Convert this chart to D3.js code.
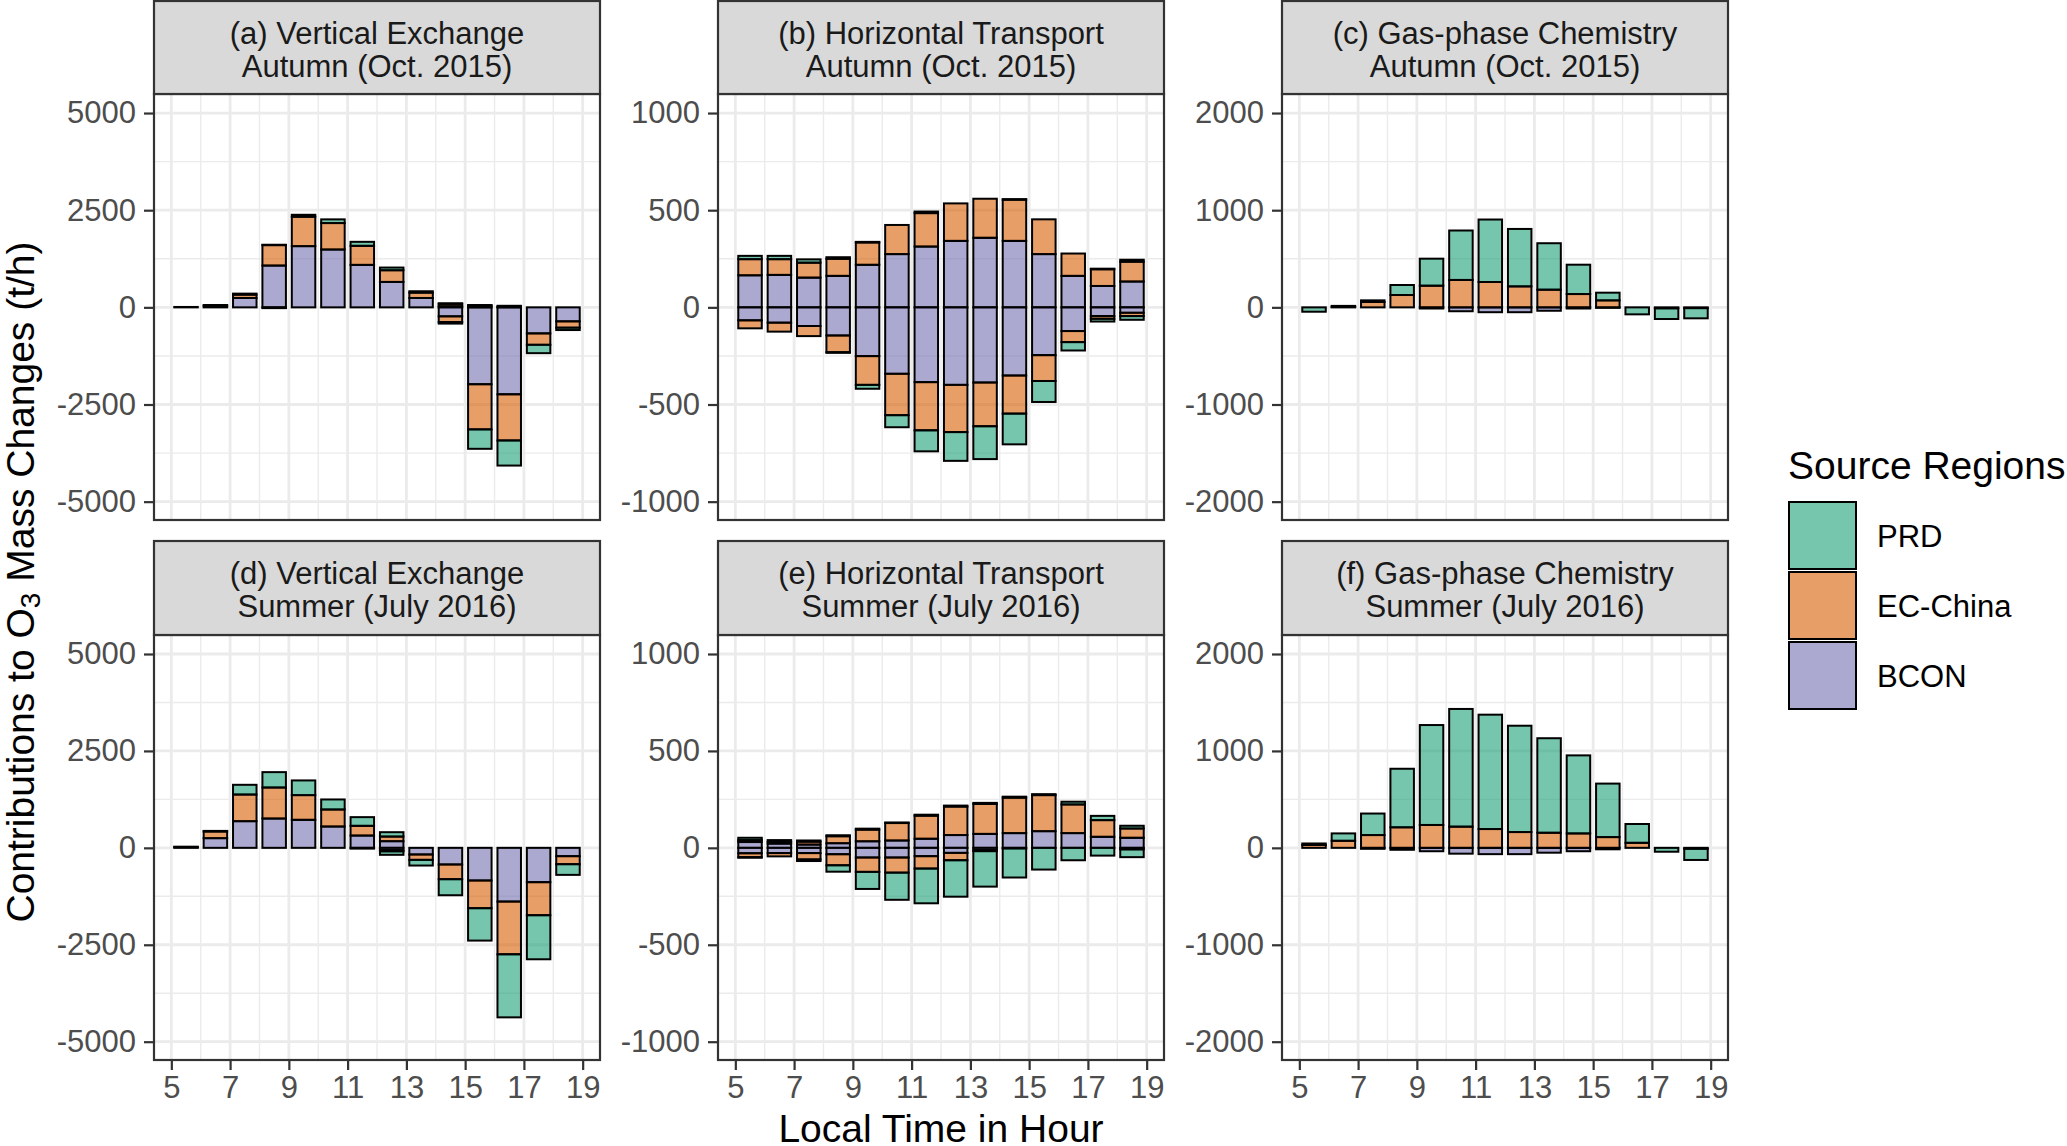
<!DOCTYPE html>
<html><head><meta charset="utf-8">
<script src="https://cdn.jsdelivr.net/npm/d3@7"></script>
<style>body{margin:0;background:#fff;}svg{display:block;font-family:"Liberation Sans",Arial,sans-serif;}</style>
</head><body>
<svg id="chart" width="2067" height="1146"></svg>
<script>
// ---- data ----
const hours = [5.5,6.5,7.5,8.5,9.5,10.5,11.5,12.5,13.5,14.5,15.5,16.5,17.5,18.5];
const regions = ["PRD","EC-China","BCON"];
const xTicks = [5,7,9,11,13,15,17,19];

// (a) Vertical Exchange, Autumn
const a_BCON_pos = [10,40,241,1076,1575,1489,1093,654,241,30,0,0,0,0];
const a_EC_pos   = [0,20,86,525,757,680,490,301,138,60,40,10,0,0];
const a_PRD_pos  = [0,0,26,10,50,95,103,69,35,15,20,30,0,0];
const a_BCON_neg = [0,0,0,0,0,0,0,0,0,-232,-1979,-2238,-671,-361];
const a_EC_neg   = [0,0,0,0,0,0,0,0,0,-146,-1162,-1188,-293,-163];
const a_PRD_neg  = [0,0,0,-20,0,0,0,0,0,-40,-499,-645,-215,-60];
// (b) Horizontal Transport, Autumn
const b_BCON_pos = [165,167,153,162,219,274,313,342,358,342,274,162,110,133];
const b_EC_pos   = [83,81,77,88,115,150,172,193,201,212,179,115,86,102];
const b_PRD_pos  = [17,17,17,8,3,0,8,0,0,3,0,0,3,10];
const b_BCON_neg = [-67,-79,-96,-145,-251,-342,-385,-399,-387,-351,-246,-122,-45,-28];
const b_EC_neg   = [-41,-46,-52,-86,-148,-213,-248,-243,-225,-196,-133,-57,-14,-17];
const b_PRD_neg  = [0,0,0,-3,-20,-62,-108,-148,-169,-158,-108,-43,-14,-19];
// (c) Gas-phase Chemistry, Autumn
const c_BCON_pos = [0,0,0,0,0,0,0,0,0,0,0,0,0,0];
const c_EC_pos   = [0,5,55,127,223,282,261,216,182,137,72,0,0,0];
const c_PRD_pos  = [0,10,17,103,278,509,643,591,478,302,79,0,0,0];
const c_BCON_neg = [0,0,0,0,-12,-40,-50,-50,-35,-12,-5,0,-10,-8];
const c_EC_neg   = [0,0,0,0,0,0,0,0,0,0,0,0,0,0];
const c_PRD_neg  = [-45,0,0,0,0,0,0,0,0,0,0,-72,-110,-105];
// (d) Vertical Exchange, Summer
const d_BCON_pos = [20,250,688,757,723,551,318,172,0,0,0,0,0,0];
const d_EC_pos   = [10,172,688,800,637,439,250,120,0,0,0,0,0,0];
const d_PRD_pos  = [0,15,250,396,379,258,224,112,0,0,0,0,0,0];
const d_BCON_neg = [0,0,0,0,0,0,-20,-60,-172,-430,-843,-1386,-886,-215];
const d_EC_neg   = [0,0,0,0,0,0,0,-30,-138,-379,-714,-1360,-852,-207];
const d_PRD_neg  = [0,0,0,0,0,0,0,-90,-146,-413,-835,-1626,-1136,-275];
// (e) Horizontal Transport, Summer
const e_BCON_pos = [30,22,17,24,34,38,47,66,72,76,86,76,57,52];
const e_EC_pos   = [10,10,15,36,60,90,119,147,155,183,186,148,86,48];
const e_PRD_pos  = [12,8,6,5,5,3,5,5,5,5,5,14,22,14];
const e_BCON_neg = [-28,-27,-27,-33,-50,-50,-43,-26,-12,-3,0,0,0,-8];
const e_EC_neg   = [-20,-17,-33,-57,-74,-78,-64,-38,-5,0,0,0,0,0];
const e_PRD_neg  = [-3,0,-8,-33,-88,-140,-179,-188,-183,-150,-112,-64,-40,-40];
// (f) Gas-phase Chemistry, Summer
const f_BCON_pos = [0,0,0,0,0,0,0,0,0,0,0,0,0,0];
const f_EC_pos   = [30,73,132,212,236,219,194,163,156,149,111,52,0,0];
const f_PRD_pos  = [15,76,222,604,1031,1214,1180,1097,975,805,552,194,0,0];
const f_BCON_neg = [0,0,-10,-20,-35,-60,-65,-65,-50,-35,-15,0,0,-10];
const f_EC_neg   = [0,0,0,0,0,0,0,0,0,0,0,0,0,0];
const f_PRD_neg  = [0,0,0,0,0,0,0,0,0,0,0,0,-40,-115];

const panelTitles = [
  ["(a) Vertical Exchange","Autumn (Oct. 2015)"],
  ["(b) Horizontal Transport","Autumn (Oct. 2015)"],
  ["(c) Gas-phase Chemistry","Autumn (Oct. 2015)"],
  ["(d) Vertical Exchange","Summer (July 2016)"],
  ["(e) Horizontal Transport","Summer (July 2016)"],
  ["(f) Gas-phase Chemistry","Summer (July 2016)"]
];
const yTicksA = [-5000,-2500,0,2500,5000];
const yTicksB = [-1000,-500,0,500,1000];
const yTicksC = [-2000,-1000,0,1000,2000];

const panelData = [
  {BCON:[a_BCON_pos,a_BCON_neg],EC:[a_EC_pos,a_EC_neg],PRD:[a_PRD_pos,a_PRD_neg]},
  {BCON:[b_BCON_pos,b_BCON_neg],EC:[b_EC_pos,b_EC_neg],PRD:[b_PRD_pos,b_PRD_neg]},
  {BCON:[c_BCON_pos,c_BCON_neg],EC:[c_EC_pos,c_EC_neg],PRD:[c_PRD_pos,c_PRD_neg]},
  {BCON:[d_BCON_pos,d_BCON_neg],EC:[d_EC_pos,d_EC_neg],PRD:[d_PRD_pos,d_PRD_neg]},
  {BCON:[e_BCON_pos,e_BCON_neg],EC:[e_EC_pos,e_EC_neg],PRD:[e_PRD_pos,e_PRD_neg]},
  {BCON:[f_BCON_pos,f_BCON_neg],EC:[f_EC_pos,f_EC_neg],PRD:[f_PRD_pos,f_PRD_neg]}
];

// ---- layout ----
const svg = d3.select("#chart");
const colors = {"PRD":"#1B9E77","EC-China":"#D95F02","BCON":"#7570B3"};
const keyOf = {"PRD":"PRD","EC-China":"EC","BCON":"BCON"};
const colX = [154,718,1282], pw = 446;
const rowStrip = [1,541], rowPTop = [94,635], rowPBot = [520,1060];
const yTickSets = [yTicksA,yTicksB,yTicksC];
const yMax = [5000,1000,2000];
const barW = 0.8;

panelData.forEach((pd,i)=>{
  const col = i%3, row = Math.floor(i/3);
  const x0 = colX[col], sTop = rowStrip[row], pTop = rowPTop[row], pBot = rowPBot[row];
  const ph = pBot-pTop, stripH = pTop-sTop;
  const m = yMax[col];
  const x = d3.scaleLinear().domain([4.41,19.59]).range([x0,x0+pw]);
  const y = d3.scaleLinear().domain([-m*1.0944, m*1.098]).range([pBot,pTop]);
  const g = svg.append("g");
  g.append("rect").attr("x",x0).attr("y",pTop).attr("width",pw).attr("height",ph).attr("fill","#fff");
  // minor grid
  const ticks = yTickSets[col];
  const yMinor = d3.range(ticks.length-1).map(k=>(ticks[k]+ticks[k+1])/2);
  g.selectAll(".ymn").data(yMinor).join("line").attr("x1",x0).attr("x2",x0+pw)
    .attr("y1",d=>y(d)).attr("y2",d=>y(d)).attr("stroke","#EBEBEB").attr("stroke-width",1.4);
  g.selectAll(".xmn").data(d3.range(6,19,2)).join("line").attr("y1",pTop).attr("y2",pBot)
    .attr("x1",d=>x(d)).attr("x2",d=>x(d)).attr("stroke","#EBEBEB").attr("stroke-width",1.4);
  // major grid
  g.selectAll(".ymj").data(ticks).join("line").attr("x1",x0).attr("x2",x0+pw)
    .attr("y1",d=>y(d)).attr("y2",d=>y(d)).attr("stroke","#EBEBEB").attr("stroke-width",2.8);
  g.selectAll(".xmj").data(xTicks).join("line").attr("y1",pTop).attr("y2",pBot)
    .attr("x1",d=>x(d)).attr("x2",d=>x(d)).attr("stroke","#EBEBEB").attr("stroke-width",2.8);
  // bars (stacked separately for positive and negative parts)
  const rects = [];
  hours.forEach((h,j)=>{
    let cp = 0, cn = 0;
    ["BCON","EC-China","PRD"].forEach(r=>{
      const arr = pd[keyOf[r]];
      const vp = arr[0][j], vn = arr[1][j];
      if (vp>0){ rects.push({h, r, y0:cp, y1:cp+vp}); cp+=vp; }
      if (vn<0){ rects.push({h, r, y0:cn+vn, y1:cn}); cn+=vn; }
    });
  });
  g.selectAll(".bar").data(rects).join("rect")
    .attr("x",d=>x(d.h-barW/2)).attr("width",d=>x(d.h+barW/2)-x(d.h-barW/2))
    .attr("y",d=>y(d.y1)).attr("height",d=>Math.max(0,y(d.y0)-y(d.y1)))
    .attr("fill",d=>colors[d.r]).attr("fill-opacity",0.6)
    .attr("stroke","#000").attr("stroke-width",2);
  // panel border
  g.append("rect").attr("x",x0).attr("y",pTop).attr("width",pw).attr("height",ph)
    .attr("fill","none").attr("stroke","#333333").attr("stroke-width",2.2);
  // strip
  g.append("rect").attr("x",x0).attr("y",sTop).attr("width",pw).attr("height",stripH)
    .attr("fill","#D9D9D9").attr("stroke","#333333").attr("stroke-width",2.2);
  panelTitles[i].forEach((t,k)=>{
    g.append("text").attr("x",x0+pw/2).attr("y",sTop+32+k*33).attr("text-anchor","middle")
      .attr("dominant-baseline","central").attr("font-size",31).attr("fill","#1A1A1A").text(t);
  });
  // y axis
  const ya = d3.axisLeft(y).tickValues(ticks).tickSize(10).tickPadding(8).tickFormat(d=>String(d));
  const yg = g.append("g").attr("transform",`translate(${x0},0)`).call(ya);
  yg.select(".domain").remove();
  yg.selectAll(".tick line").attr("stroke","#333333").attr("stroke-width",2.2);
  yg.selectAll(".tick text").attr("font-size",31).attr("fill","#4D4D4D")
    .attr("font-family","'Liberation Sans',Arial,sans-serif");
  // x axis for bottom row
  if (row===1){
    const xa = d3.axisBottom(x).tickValues(xTicks).tickSize(10).tickPadding(6).tickFormat(d=>String(d));
    const xg = g.append("g").attr("transform",`translate(0,${pBot})`).call(xa);
    xg.select(".domain").remove();
    xg.selectAll(".tick line").attr("stroke","#333333").attr("stroke-width",2.2);
    xg.selectAll(".tick text").attr("font-size",31).attr("fill","#4D4D4D")
      .attr("font-family","'Liberation Sans',Arial,sans-serif");
  }
});

// axis titles
svg.append("text").attr("x",941).attr("y",1128).attr("text-anchor","middle")
  .attr("dominant-baseline","central").attr("font-size",39).attr("fill","#000").text("Local Time in Hour");
const yt = svg.append("text").attr("transform","translate(20,582) rotate(-90)")
  .attr("text-anchor","middle").attr("dominant-baseline","central").attr("font-size",39).attr("fill","#000");
yt.append("tspan").text("Contributions to O");
yt.append("tspan").attr("font-size",28).attr("dy",10).text("3");
yt.append("tspan").attr("dy",-10).text(" Mass Changes (t/h)");

// legend
svg.append("text").attr("x",1788).attr("y",465).attr("dominant-baseline","central")
  .attr("font-size",39).attr("fill","#000").text("Source Regions");
const lg = svg.append("g");
regions.forEach((r,k)=>{
  const top = 502 + k*70;
  lg.append("rect").attr("x",1789).attr("y",top).attr("width",67).attr("height",67)
    .attr("fill",colors[r]).attr("fill-opacity",0.6).attr("stroke","#000").attr("stroke-width",2);
  lg.append("text").attr("x",1877).attr("y",top+34).attr("dominant-baseline","central")
    .attr("font-size",31).attr("fill","#000").text(r);
});
</script>
</body></html>
